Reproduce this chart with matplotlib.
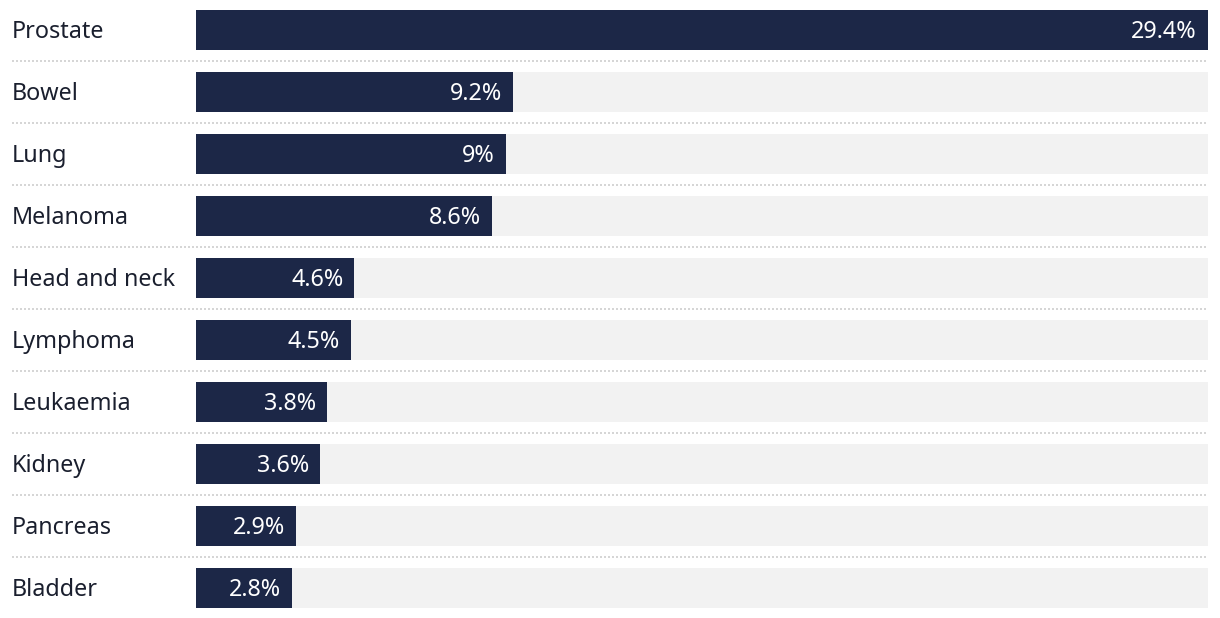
import matplotlib.pyplot as plt
from matplotlib.transforms import blended_transform_factory

categories = ["Prostate", "Bowel", "Lung", "Melanoma", "Head and neck",
              "Lymphoma", "Leukaemia", "Kidney", "Pancreas", "Bladder"]
values = [29.4, 9.2, 9.0, 8.6, 4.6, 4.5, 3.8, 3.6, 2.9, 2.8]
value_labels = ["29.4%", "9.2%", "9%", "8.6%", "4.6%",
                "4.5%", "3.8%", "3.6%", "2.9%", "2.8%"]

W, H = 1220, 618
BAR = "#1c2747"
BG = "#f2f2f2"
FONT = "Noto Sans"

fig = plt.figure(figsize=(W / 100, H / 100), dpi=100)
ax = fig.add_axes([196 / W, 0, (1208 - 196) / W, 1])
ax.axis("off")

vmax = max(values)
ax.set_xlim(0, vmax)
# row pitch 62px, first row centred 30px from the top
ax.set_ylim((H - 30) / 62, -30 / 62)

ypos = list(range(len(categories)))
ax.barh(ypos, [vmax] * len(values), height=40 / 62, color=BG, zorder=1)
ax.barh(ypos, values, height=40 / 62, color=BAR, zorder=2)

pad = 11 * vmax / (1208 - 196)
dy = 2 / 62  # nudge text down a touch
for y, v, lab in zip(ypos, values, value_labels):
    ax.text(v - pad, y + dy, lab, ha="right", va="center", color="white",
            fontsize=16.8, family=FONT, zorder=3)

trans = blended_transform_factory(fig.transFigure, ax.transData)
for y, name in zip(ypos, categories):
    ax.text(12 / W, y + dy, name, transform=trans, ha="left", va="center",
            color="#1a1f2e", fontsize=16.8, family=FONT)

# dotted separators between rows
for y in ypos[:-1]:
    ax.plot([12 / W, 1208 / W], [y + 0.5, y + 0.5], transform=trans,
            color="#d6d6d6", linewidth=1.44, linestyle=(0, (1, 1)),
            clip_on=False, zorder=0)

fig.savefig("out.png", dpi=100)
